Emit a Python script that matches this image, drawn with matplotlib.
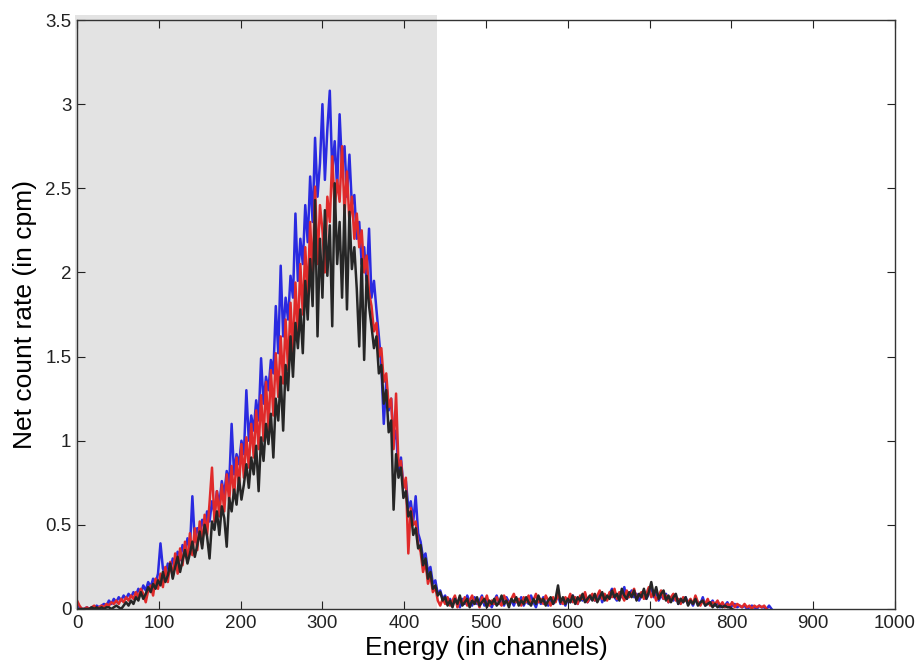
import numpy as np

import matplotlib
matplotlib.use("Agg")
import matplotlib.pyplot as plt
from matplotlib.patches import Rectangle


CHANNEL_STEP = 3

BLUE_RATE = [
    0.03, 0.01, 0.00, 0.00, 0.01, 0.00, 0.01, 0.00, 0.02, 0.01,
    0.02, 0.03, 0.02, 0.05, 0.03, 0.06, 0.04, 0.07, 0.05, 0.08,
    0.06, 0.09, 0.07, 0.10, 0.08, 0.12, 0.09, 0.14, 0.11, 0.16,
    0.13, 0.18, 0.15, 0.21, 0.39, 0.24, 0.20, 0.27, 0.23, 0.30,
    0.26, 0.34, 0.29, 0.38, 0.32, 0.42, 0.36, 0.67, 0.40, 0.48,
    0.44, 0.53, 0.48, 0.58, 0.52, 0.64, 0.57, 0.70, 0.62, 0.76,
    0.68, 0.82, 0.74, 1.10, 0.80, 0.92, 0.86, 1.00, 0.92, 1.30,
    1.00, 1.15, 1.06, 1.24, 1.12, 1.49, 1.22, 1.38, 1.30, 1.48,
    1.40, 1.80, 1.52, 2.04, 1.62, 1.85, 1.72, 1.98, 1.85, 2.35,
    1.95, 2.20, 2.05, 2.40, 2.18, 2.57, 2.30, 2.80, 2.45, 2.65,
    3.00, 2.55, 2.85, 3.08, 2.60, 2.78, 2.50, 2.94, 2.62, 2.75,
    2.45, 2.70, 2.40, 2.46, 2.20, 2.30, 2.05, 2.15, 1.95, 2.26,
    1.85, 1.95, 1.78, 1.62, 1.45, 1.10, 1.35, 1.18, 1.25, 1.00,
    1.06, 0.82, 0.90, 0.72, 0.76, 0.60, 0.64, 0.52, 0.67, 0.45,
    0.40, 0.30, 0.33, 0.22, 0.25, 0.15, 0.17, 0.09, 0.11, 0.06,
    0.08, 0.03, 0.06, 0.02, 0.07, 0.04, 0.01, 0.06, 0.03, 0.08,
    0.04, 0.02, 0.07, 0.03, 0.05, 0.08, 0.02, 0.06, 0.04, 0.01,
    0.05, 0.08, 0.03, 0.06, 0.02, 0.07, 0.04, 0.05, 0.02, 0.06,
    0.04, 0.07, 0.02, 0.05, 0.03, 0.08, 0.04, 0.01, 0.06, 0.03,
    0.07, 0.04, 0.02, 0.06, 0.03, 0.05, 0.08, 0.03, 0.05, 0.02,
    0.06, 0.04, 0.08, 0.05, 0.03, 0.07, 0.05, 0.09, 0.04, 0.06,
    0.08, 0.05, 0.07, 0.10, 0.04, 0.08, 0.06, 0.09, 0.12, 0.07,
    0.05, 0.09, 0.07, 0.13, 0.06, 0.08, 0.11, 0.07, 0.09, 0.05,
    0.08, 0.11, 0.06, 0.09, 0.13, 0.07, 0.10, 0.05, 0.08, 0.06,
    0.09, 0.04, 0.07, 0.05, 0.08, 0.03, 0.06, 0.04, 0.07, 0.03,
    0.05, 0.02, 0.06, 0.04, 0.03, 0.07, 0.02, 0.04, 0.03, 0.05,
    0.02, 0.04, 0.01, 0.03, 0.02, 0.04, 0.01, 0.02, 0.03, 0.01,
    0.02, 0.01, 0.02, 0.00, 0.01, 0.02, 0.01, 0.00, 0.02, 0.01,
    0.01, 0.00, 0.02, 0.00,
]

RED_RATE = [
    0.05, 0.02, 0.00, 0.00, 0.01, 0.00, 0.01, 0.02, 0.00, 0.01,
    0.02, 0.01, 0.03, 0.02, 0.04, 0.03, 0.05, 0.03, 0.06, 0.04,
    0.07, 0.05, 0.08, 0.06, 0.10, 0.07, 0.12, 0.09, 0.04, 0.11,
    0.14, 0.08, 0.18, 0.12, 0.21, 0.13, 0.25, 0.16, 0.28, 0.19,
    0.33, 0.21, 0.36, 0.26, 0.40, 0.28, 0.45, 0.32, 0.48, 0.35,
    0.52, 0.38, 0.56, 0.44, 0.63, 0.84, 0.52, 0.70, 0.55, 0.74,
    0.58, 0.80, 0.64, 0.85, 0.66, 0.90, 0.72, 0.98, 0.78, 1.02,
    0.84, 1.10, 0.90, 1.18, 0.95, 1.27, 1.00, 1.35, 1.06, 1.42,
    1.15, 1.52, 1.26, 1.62, 1.34, 1.72, 1.42, 1.82, 1.52, 1.94,
    1.62, 2.05, 1.75, 2.15, 1.85, 2.30, 1.96, 2.51, 2.05, 2.40,
    2.25, 2.00, 2.45, 2.30, 2.69, 2.38, 2.55, 2.42, 2.75, 2.35,
    2.60, 2.30, 2.45, 2.20, 2.35, 2.15, 2.25, 2.00, 2.10, 1.88,
    1.80, 1.65, 1.70, 1.50, 1.55, 1.35, 1.40, 1.20, 1.25, 0.95,
    1.28, 0.85, 0.88, 0.72, 0.78, 0.33, 0.60, 0.50, 0.52, 0.38,
    0.34, 0.22, 0.28, 0.15, 0.20, 0.10, 0.13, 0.05, 0.02, 0.06,
    0.03, 0.07, 0.02, 0.05, 0.08, 0.01, 0.06, 0.03, 0.07, 0.02,
    0.05, 0.08, 0.03, 0.06, 0.01, 0.07, 0.04, 0.08, 0.02, 0.05,
    0.03, 0.07, 0.04, 0.02, 0.08, 0.05, 0.03, 0.06, 0.09, 0.04,
    0.06, 0.02, 0.07, 0.04, 0.08, 0.03, 0.05, 0.09, 0.04, 0.06,
    0.03, 0.08, 0.05, 0.02, 0.07, 0.04, 0.09, 0.05, 0.03, 0.07,
    0.05, 0.09, 0.04, 0.07, 0.03, 0.08, 0.06, 0.10, 0.04, 0.07,
    0.09, 0.05, 0.08, 0.11, 0.06, 0.09, 0.05, 0.10, 0.07, 0.12,
    0.06, 0.10, 0.08, 0.05, 0.11, 0.07, 0.09, 0.12, 0.06, 0.08,
    0.10, 0.06, 0.09, 0.13, 0.07, 0.10, 0.05, 0.08, 0.11, 0.06,
    0.08, 0.04, 0.07, 0.09, 0.05, 0.06, 0.03, 0.07, 0.05, 0.04,
    0.06, 0.03, 0.08, 0.04, 0.02, 0.05, 0.03, 0.06, 0.02, 0.04,
    0.03, 0.05, 0.02, 0.04, 0.01, 0.03, 0.02, 0.04, 0.01, 0.03,
    0.02, 0.01, 0.03, 0.01, 0.02, 0.00, 0.02, 0.01, 0.02, 0.01,
    0.02, 0.00,
]

BLACK_RATE = [
    0.00, 0.00, 0.00, 0.00, 0.00, 0.00, 0.01, 0.00, 0.01, 0.00,
    0.01, 0.00, 0.01, 0.01, 0.00, 0.01, 0.02, 0.01, 0.00, 0.02,
    0.04, 0.02, 0.05, 0.03, 0.07, 0.05, 0.10, 0.06, 0.09, 0.13,
    0.10, 0.15, 0.12, 0.17, 0.14, 0.22, 0.16, 0.20, 0.27, 0.18,
    0.25, 0.31, 0.22, 0.29, 0.35, 0.27, 0.33, 0.40, 0.31, 0.38,
    0.46, 0.36, 0.50, 0.43, 0.30, 0.52, 0.47, 0.58, 0.44, 0.61,
    0.54, 0.37, 0.66, 0.58, 0.71, 0.62, 0.78, 0.65, 0.74, 0.86,
    0.72, 0.90, 0.80, 0.97, 0.70, 1.02, 0.88, 1.10, 0.98, 1.16,
    0.90, 1.25, 1.12, 1.38, 1.06, 1.45, 1.30, 1.62, 1.38, 1.70,
    1.55, 1.78, 1.52, 1.95, 1.72, 2.08, 1.80, 2.43, 1.62, 2.20,
    1.85, 2.37, 1.98, 2.28, 1.68, 2.53, 2.05, 2.30, 1.85, 2.40,
    1.78, 2.36, 2.02, 2.15, 1.90, 1.56, 2.08, 1.48, 1.98, 1.80,
    1.68, 1.55, 1.62, 1.40, 1.45, 1.22, 1.30, 1.05, 1.12, 0.59,
    0.92, 0.78, 0.84, 0.66, 0.70, 0.55, 0.58, 0.44, 0.48, 0.36,
    0.38, 0.26, 0.30, 0.18, 0.22, 0.12, 0.14, 0.08, 0.10, 0.05,
    0.07, 0.02, 0.05, 0.01, 0.06, 0.03, 0.08, 0.02, 0.04, 0.06,
    0.01, 0.05, 0.03, 0.07, 0.02, 0.04, 0.06, 0.01, 0.05, 0.03,
    0.06, 0.02, 0.04, 0.08, 0.03, 0.05, 0.01, 0.06, 0.04, 0.07,
    0.02, 0.05, 0.03, 0.07, 0.04, 0.02, 0.06, 0.03, 0.08, 0.04,
    0.06, 0.02, 0.05, 0.07, 0.03, 0.06, 0.14, 0.04, 0.07, 0.03,
    0.06, 0.04, 0.08, 0.03, 0.07, 0.05, 0.09, 0.04, 0.06, 0.08,
    0.05, 0.09, 0.04, 0.07, 0.10, 0.05, 0.08, 0.06, 0.11, 0.07,
    0.09, 0.05, 0.12, 0.08, 0.06, 0.10, 0.07, 0.11, 0.05, 0.09,
    0.07, 0.12, 0.06, 0.10, 0.16, 0.08, 0.13, 0.06, 0.09, 0.11,
    0.05, 0.08, 0.04, 0.07, 0.09, 0.03, 0.06, 0.04, 0.07, 0.02,
    0.05, 0.03, 0.06, 0.02, 0.04, 0.05, 0.02, 0.03, 0.04, 0.01,
    0.03, 0.01, 0.02, 0.01, 0.02, 0.01, 0.01, 0.00,
]

SHADE_END = 440
X_TICKS = [0, 100, 200, 300, 400, 500, 600, 700, 800, 900, 1000]
Y_TICKS = [0, 0.5, 1, 1.5, 2, 2.5, 3, 3.5]
Y_TICK_LABELS = ["0", "0.5", "1", "1.5", "2", "2.5", "3", "3.5"]

SERIES = [
    (BLUE_RATE, "#2a2ae0"),
    (RED_RATE, "#e02a2a"),
    (BLACK_RATE, "#262626"),
]


def channels_for(rates):
    return np.arange(len(rates)) * CHANNEL_STEP


def main():
    plt.rcParams["font.family"] = ["Liberation Sans", "DejaVu Sans"]

    fig = plt.figure(figsize=(9.18, 6.61), dpi=100)
    ax = fig.add_axes([0.0839, 0.0787, 0.8911, 0.891])

    # grey window behind the main peak, spills a little past the frame like the original
    ax.add_patch(Rectangle((-3, 0), SHADE_END + 3, 3.53, facecolor="#e3e3e3",
                           edgecolor="none", clip_on=False, zorder=0))

    for rates, color in SERIES:
        ax.plot(channels_for(rates), rates, color=color, linewidth=1.8, zorder=2)

    ax.set_xlim(0, 1000)
    ax.set_ylim(0, 3.5)
    ax.set_xticks(X_TICKS)
    ax.set_yticks(Y_TICKS)
    ax.set_yticklabels(Y_TICK_LABELS)
    ax.tick_params(direction="in", length=6, width=0.8, colors="#222222",
                   labelsize=13.5, top=True, right=True, pad=4)

    for spine in ax.spines.values():
        spine.set_color("#333333")
        spine.set_linewidth(1.0)
        spine.set_zorder(3)

    ax.set_xlabel("Energy (in channels)", fontsize=19, labelpad=3)
    ax.set_ylabel("Net count rate (in cpm)", fontsize=19, labelpad=6)

    fig.savefig("out.png", dpi=100)
    plt.close(fig)


if __name__ == "__main__":
    main()
